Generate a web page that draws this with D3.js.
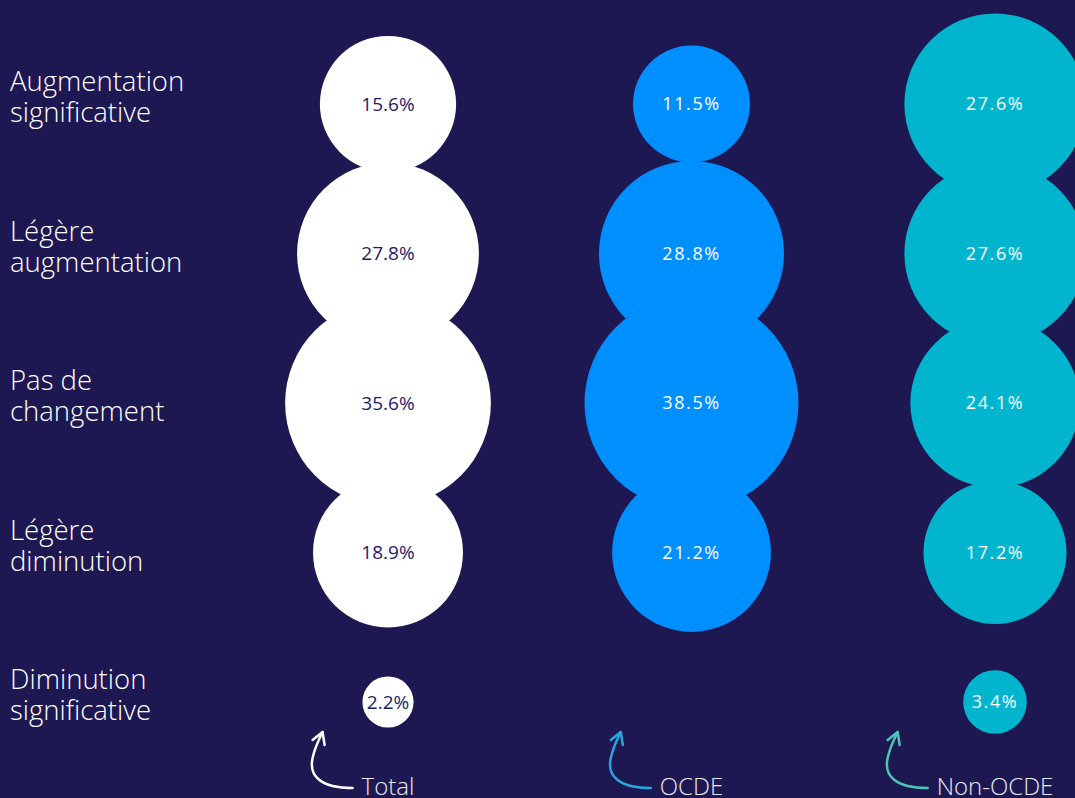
<!DOCTYPE html>
<html>
<head>
<meta charset="utf-8">
<script src="https://cdn.jsdelivr.net/npm/d3@7"></script>
<style>
  html, body { margin: 0; padding: 0; background: #1e1852; }
  svg { display: block; }
  text { font-family: "Open Sans", "Noto Sans", sans-serif; }
</style>
</head>
<body>
<div id="chart"></div>
<script>
const rows = [
  ["Augmentation", "significative"],
  ["Légère", "augmentation"],
  ["Pas de", "changement"],
  ["Légère", "diminution"],
  ["Diminution", "significative"]
];
const columns = ["Total", "OCDE", "Non-OCDE"];
const totalValues = [15.6, 27.8, 35.6, 18.9, 2.2];
const ocdeValues = [11.5, 28.8, 38.5, 21.2, null];
const nonOcdeValues = [27.6, 27.6, 24.1, 17.2, 3.4];
const series = [totalValues, ocdeValues, nonOcdeValues];

const fills = ["#ffffff", "#008fff", "#00b5cd"];
const labelFills = ["#221b6c", "#ffffff", "#ffffff"];
const arrowColors = ["#ffffff", "#27a6e2", "#4cc4b8"];

const size = {width: 1075, height: 798};
const svg = d3.select("#chart")
  .append("svg")
  .attr("width", size.width)
  .attr("height", size.height);

svg.append("rect")
  .attr("width", size.width)
  .attr("height", size.height)
  .attr("fill", "#1e1852");

const x = d3.scalePoint()
  .domain(columns)
  .range([388, 995]);

const y = d3.scalePoint()
  .domain(d3.range(rows.length))
  .range([104, 702]);

const r = d3.scaleSqrt()
  .domain([0, 38.5])
  .range([0, 107]);

// row labels, two lines each
const rowLabel = svg.append("g")
  .selectAll("text")
  .data(rows)
  .join("text")
  .attr("x", 10)
  .attr("y", (d, i) => y(i) - 13)
  .attr("fill", "#ffffff")
  .attr("font-size", 27.5)
  .attr("font-weight", 300);

rowLabel.selectAll("tspan")
  .data(d => d)
  .join("tspan")
  .attr("x", 10)
  .attr("dy", (d, i) => i === 0 ? 0 : 31)
  .text(d => d);

// bubbles
const cells = [];
series.forEach((values, c) => {
  values.forEach((v, i) => {
    if (v != null) cells.push({col: c, row: i, value: v});
  });
});

const bubble = svg.append("g")
  .selectAll("g")
  .data(cells)
  .join("g")
  .attr("transform", d => `translate(${x(columns[d.col])},${y(d.row)})`);

bubble.append("circle")
  .attr("r", d => r(d.value))
  .attr("fill", d => fills[d.col]);

bubble.append("text")
  .attr("text-anchor", "middle")
  .attr("dy", "0.35em")
  .attr("font-size", d => d.col === 0 ? 19 : 18)
  .attr("letter-spacing", d => d.col === 0 ? 0 : 1.6)
  .attr("fill", d => labelFills[d.col])
  .text(d => `${d.value.toFixed(1)}%`);

// column names with hand-drawn arrows
const foot = svg.append("g")
  .selectAll("g")
  .data(columns)
  .join("g");

foot.append("text")
  .attr("x", d => x(d))
  .attr("y", 795)
  .attr("text-anchor", "middle")
  .attr("font-size", 24)
  .attr("font-weight", 300)
  .attr("fill", "#e8e8f0")
  .text(d => d);

foot.each(function(d, i) {
  const g = d3.select(this);
  const box = g.select("text").node().getBBox();
  const tx = box.x - 39;
  const ty = 732;
  g.append("path")
    .attr("d", `M${tx + 30},${ty + 56} C${tx - 2},${ty + 56} ${tx - 14},${ty + 44} ${tx - 10},${ty + 26} C${tx - 8},${ty + 16} ${tx - 4},${ty + 8} ${tx},${ty}`)
    .attr("fill", "none")
    .attr("stroke", arrowColors[i])
    .attr("stroke-width", 2.5)
    .attr("stroke-linecap", "round");
  g.append("path")
    .attr("d", `M${tx - 10},${ty + 8} L${tx},${ty} L${tx + 2},${ty + 13}`)
    .attr("fill", "none")
    .attr("stroke", arrowColors[i])
    .attr("stroke-width", 2.5)
    .attr("stroke-linecap", "round")
    .attr("stroke-linejoin", "round");
});
</script>
</body>
</html>
